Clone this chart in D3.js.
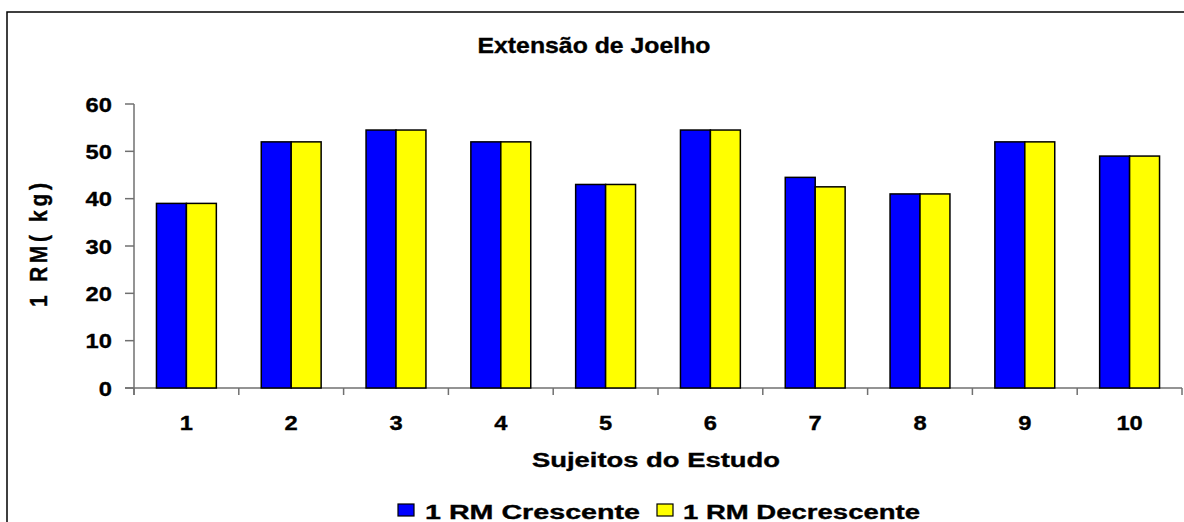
<!DOCTYPE html>
<html>
<head>
<meta charset="utf-8">
<script src="https://cdn.jsdelivr.net/npm/d3@7"></script>
<style>
  html, body { margin: 0; padding: 0; background: #fff; }
  svg { display: block; }
  text { font-family: "Liberation Sans", Arial, sans-serif; font-weight: bold; fill: #000; stroke: #000; stroke-width: 0.35px; }
</style>
</head>
<body>
<svg id="chart" width="1184" height="522"></svg>
<script>
// Extensão de Joelho — 1RM crescente vs decrescente
const subjects = ['1', '2', '3', '4', '5', '6', '7', '8', '9', '10'];
const seriesNames = ['1 RM Crescente', '1 RM Decrescente'];
const seriesColors = ['#0000ff', '#ffff00'];
const crescente = [39, 52, 54.5, 52, 43, 54.5, 44.5, 41, 52, 49];
const decrescente = [39, 52, 54.5, 52, 43, 54.5, 42.5, 41, 52, 49];
const yTicks = [0, 10, 20, 30, 40, 50, 60];

const SX = 1.13; // source text is a bit wider than normal
const svg = d3.select('#chart');

// outer frame, runs off the picture on the right and bottom
svg.append('rect').attr('x', 7).attr('y', 12).attr('width', 1200).attr('height', 540)
  .attr('fill', 'none').attr('stroke', '#000').attr('stroke-width', 1.5);

const x0 = d3.scaleBand().domain(subjects).range([134, 1182]).padding(0);
const x1 = d3.scaleBand().domain(seriesNames).range([0, x0.bandwidth()])
  .paddingInner(0).paddingOuter(0.75);
const y = d3.scaleLinear().domain([0, 60]).range([388, 104]);

const rows = subjects.map((s, i) => ({ s, vals: [crescente[i], decrescente[i]] }));

// title
svg.append('text')
  .attr('transform', `translate(594,53)`)
  .attr('text-anchor', 'middle').attr('font-size', 22)
  .attr('textLength', 233).attr('lengthAdjust', 'spacingAndGlyphs')
  .text('Extensão de Joelho');

// y axis
const yAxis = svg.append('g');
yAxis.append('line').attr('x1', 134).attr('x2', 134).attr('y1', y(60)).attr('y2', 395)
  .attr('stroke', '#707070').attr('stroke-width', 1.5);
yAxis.selectAll('line.tick').data(yTicks).enter().append('line').attr('class', 'tick')
  .attr('x1', 125).attr('x2', 134).attr('y1', d => y(d)).attr('y2', d => y(d))
  .attr('stroke', '#707070').attr('stroke-width', 1.5);
yAxis.selectAll('text').data(yTicks).enter().append('text')
  .attr('transform', d => `translate(112,${y(d) + 7.5}) scale(${SX},1)`)
  .attr('text-anchor', 'end').attr('font-size', 21)
  .text(d => d);

// x axis
const xAxis = svg.append('g');
xAxis.append('line').attr('x1', 125).attr('x2', 1182).attr('y1', 388).attr('y2', 388)
  .attr('stroke', '#707070').attr('stroke-width', 1.5);
const bounds = subjects.map(s => x0(s)).concat([x0.range()[1]]);
xAxis.selectAll('line.tick').data(bounds).enter().append('line').attr('class', 'tick')
  .attr('x1', d => d).attr('x2', d => d).attr('y1', 388).attr('y2', 395)
  .attr('stroke', '#707070').attr('stroke-width', 1.5);
xAxis.selectAll('text').data(subjects).enter().append('text')
  .attr('transform', d => `translate(${x0(d) + x0.bandwidth() / 2},430) scale(${SX},1)`)
  .attr('text-anchor', 'middle').attr('font-size', 21)
  .text(d => d);

// bars
const groups = svg.append('g').selectAll('g').data(rows).enter().append('g')
  .attr('transform', d => `translate(${x0(d.s)},0)`);
groups.selectAll('rect').data(d => d.vals.map((v, i) => ({ v, name: seriesNames[i], i })))
  .enter().append('rect')
  .attr('x', d => x1(d.name)).attr('width', x1.bandwidth())
  .attr('y', d => y(d.v)).attr('height', d => y(0) - y(d.v))
  .attr('fill', d => seriesColors[d.i])
  .attr('stroke', '#000').attr('stroke-width', 1.5);

// axis titles
svg.append('text')
  .attr('transform', `translate(656,467)`)
  .attr('text-anchor', 'middle').attr('font-size', 20)
  .attr('textLength', 248).attr('lengthAdjust', 'spacingAndGlyphs')
  .text('Sujeitos do Estudo');

svg.append('text')
  .attr('transform', `translate(47,245) rotate(-90) scale(1,${SX})`)
  .attr('text-anchor', 'middle').attr('font-size', 21)
  .attr('textLength', 124).attr('lengthAdjust', 'spacing')
  .text('1 RM( kg)');

// legend
const legendItems = [
  { name: seriesNames[0], color: seriesColors[0], sq: 398, tx: 425, len: 215 },
  { name: seriesNames[1], color: seriesColors[1], sq: 657, tx: 683, len: 237 }
];
const legend = svg.append('g');
legend.selectAll('rect').data(legendItems).enter().append('rect')
  .attr('x', d => d.sq).attr('y', 504).attr('width', 16).attr('height', 12)
  .attr('fill', d => d.color).attr('stroke', '#000').attr('stroke-width', 1.2);
legend.selectAll('text').data(legendItems).enter().append('text')
  .attr('x', d => d.tx).attr('y', 519).attr('font-size', 20)
  .attr('textLength', d => d.len).attr('lengthAdjust', 'spacingAndGlyphs')
  .text(d => d.name);
</script>
</body>
</html>
